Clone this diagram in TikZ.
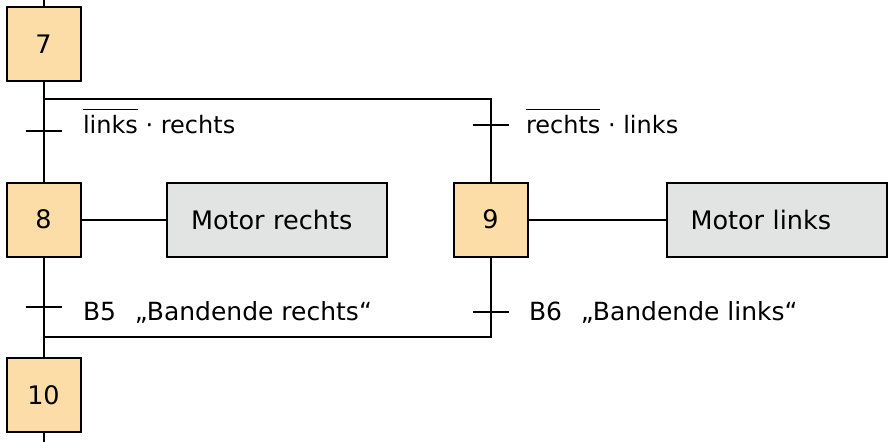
\documentclass[tikz,border=0pt]{standalone}
\usepackage{fontspec}
\setmainfont{DejaVu Sans}
\usepackage{xcolor}
\usetikzlibrary{calc,positioning}
\definecolor{schrittfarbe}{HTML}{FCDDA8}
\definecolor{aktionfarbe}{HTML}{E2E3E3}
\newcommand{\nicht}[1]{\setbox0\hbox{#1}\rlap{\rule[23pt]{\wd0}{1.5pt}}\box0\relax}

\begin{document}
\begin{tikzpicture}[x=1pt,y=-1pt,line width=2pt,
	schritt/.style={draw,fill=schrittfarbe,minimum size=74pt,inner sep=0pt,font=\fontsize{25.5}{30}\selectfont},
	aktion/.style={draw,fill=aktionfarbe,minimum height=74pt,text width=172pt,inner xsep=24pt,align=left,font=\fontsize{25.5}{30}\selectfont},
	bed/.style={anchor=base west,inner sep=0pt,font=\fontsize{24}{28}\selectfont}]
	\useasboundingbox (0,0) rectangle (895,442);
	\node[schritt] (s7) at (43.5,44) {7};
	\node[schritt] (s8) at (43.5,219.5) {8};
	\node[schritt] (s9) at (490.5,219.5) {9};
	\node[schritt] (s10) at (43.5,395) {10};
	\node[aktion] (m8) at (277,219.5) {Motor rechts};
	\node[aktion] (m9) at (776.5,219.5) {Motor links};
	\coordinate (oben) at (43.5,0);
	\coordinate (unten) at (43.5,442);
	\coordinate (v1) at (43.5,99);
	\coordinate (v2) at (490.5,99);
	\coordinate (v3) at (43.5,337);
	\coordinate (v4) at (490.5,337);
	\coordinate (t1) at (43.5,131);
	\coordinate (t2) at (490.5,125);
	\coordinate (t3) at (43.5,307);
	\coordinate (t4) at (490.5,312);
	\draw (oben) -- (s7) -- (s8) -- (s10) -- (unten);
	\draw (v1) -- (v2) -- (s9) -- (v4) -- (v3);
	\draw (s8) -- (m8);
	\draw (s9) -- (m9);
	\foreach \t in {t1,t2,t3,t4}
		\draw ([xshift=-18pt]\t) -- ([xshift=18pt]\t);
	\node[bed] (b1) at (82,133) {\nicht{links} · rechts};
	\node[bed] (b2) at (525,133) {\nicht{rechts} · links};
	\node[bed,font=\fontsize{25}{30}\selectfont] (b3) at (82,320) {B5\hspace{0.75em}„Bandende rechts“};
	\node[bed,font=\fontsize{25}{30}\selectfont] (b4) at (528,320) {B6\hspace{0.75em}„Bandende links“};
\end{tikzpicture}
\end{document}
